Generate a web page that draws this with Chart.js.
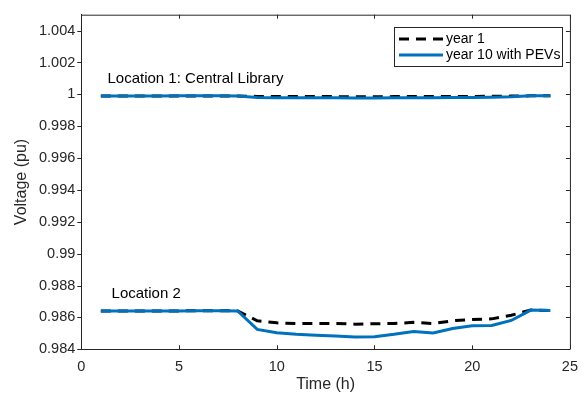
<!DOCTYPE html>
<html>
<head>
<meta charset="utf-8">
<script src="https://cdn.jsdelivr.net/npm/chart.js@4/dist/chart.umd.min.js"></script>
<style>
  html, body { margin: 0; padding: 0; background: #fff; }
  #wrap { width: 587px; height: 396px; }
</style>
</head>
<body>
<div id="wrap"><canvas id="c" width="587" height="396"></canvas></div>
<script>
// Hours of the day
const hours = [1,2,3,4,5,6,7,8,9,10,11,12,13,14,15,16,17,18,19,20,21,22,23,24];

// Location 1: Central Library
const lib_year1 = [0.99990,0.99990,0.99990,0.99990,0.99990,0.99990,0.99990,0.99990,
                   0.99987,0.99986,0.99986,0.99986,0.99986,0.99985,0.99985,0.99986,
                   0.99986,0.99986,0.99987,0.99987,0.99988,0.99989,0.99991,0.99991];
const lib_year10 = [0.99990,0.99990,0.99990,0.99990,0.99991,0.99991,0.99991,0.99990,
                    0.99981,0.99979,0.99979,0.99978,0.99978,0.99977,0.99977,0.99978,
                    0.99979,0.99978,0.99980,0.99981,0.99982,0.99985,0.99991,0.99991];

// Location 2
const loc2_year1 = [0.98641,0.98641,0.98641,0.98641,0.98641,0.98642,0.98642,0.98641,
                    0.98579,0.98566,0.98562,0.98562,0.98562,0.98558,0.98560,0.98562,
                    0.98569,0.98562,0.98579,0.98587,0.98591,0.98614,0.98646,0.98644];
const loc2_year10 = [0.98641,0.98641,0.98641,0.98641,0.98641,0.98642,0.98642,0.98641,
                     0.98525,0.98504,0.98494,0.98488,0.98483,0.98477,0.98479,0.98494,
                     0.98512,0.98502,0.98531,0.98548,0.98550,0.98581,0.98646,0.98644];

// Axis ticks
const xTicks = [0, 5, 10, 15, 20, 25];
const yTicks = [0.984, 0.986, 0.988, 0.99, 0.992, 0.994, 0.996, 0.998, 1, 1.002, 1.004];

const seriesNames = ['year 1', 'year 10 with PEVs'];
const notes = [
  { text: 'Location 1: Central Library', x: 1.34, y: 1.00098 },
  { text: 'Location 2', x: 1.55, y: 0.98746 }
];

const BLUE = '#0072BD';
const INK = '#262626';
const FONT = '"Liberation Sans", Arial, Helvetica, sans-serif';
const DASH = [10, 7];

function pts(ys) { return hours.map((h, i) => ({ x: h, y: ys[i] })); }

const solid = { borderColor: BLUE, borderWidth: 3, pointRadius: 0, fill: false, tension: 0, order: 0 };
const dashed = { borderColor: '#000', borderWidth: 3, borderDash: DASH, pointRadius: 0, fill: false, tension: 0, order: 1 };

// Box outline, MATLAB-style tick marks, legend and text notes
const decor = {
  id: 'decor',
  afterDatasetsDraw(chart) {
    const { ctx, chartArea: a, scales } = chart;
    const xs = scales.x, ys = scales.y;
    ctx.save();
    ctx.strokeStyle = INK;
    ctx.lineWidth = 1;
    ctx.beginPath();
    ctx.moveTo(a.left, a.top + 0.5);
    ctx.lineTo(a.right + 0.5, a.top + 0.5);
    ctx.lineTo(a.right + 0.5, a.bottom);
    ctx.stroke();

    const L = 4;
    ctx.beginPath();
    xTicks.forEach(v => {
      const px = Math.round(xs.getPixelForValue(v)) + 0.5;
      ctx.moveTo(px, a.bottom); ctx.lineTo(px, a.bottom - L);
      ctx.moveTo(px, a.top); ctx.lineTo(px, a.top + L);
    });
    yTicks.forEach(v => {
      const py = Math.round(ys.getPixelForValue(v)) + 0.5;
      ctx.moveTo(a.left, py); ctx.lineTo(a.left - L, py);
      ctx.moveTo(a.right, py); ctx.lineTo(a.right - L, py);
    });
    ctx.stroke();

    // notes
    ctx.fillStyle = '#000';
    ctx.font = '15px ' + FONT;
    ctx.textBaseline = 'middle';
    ctx.textAlign = 'left';
    notes.forEach(n => ctx.fillText(n.text, xs.getPixelForValue(n.x), ys.getPixelForValue(n.y)));

    // legend
    const bx = 394.5, by = 27.5, bw = 168, bh = 39;
    ctx.fillStyle = '#fff';
    ctx.fillRect(bx, by, bw, bh);
    ctx.strokeStyle = INK;
    ctx.lineWidth = 1;
    ctx.strokeRect(bx, by, bw, bh);
    const rows = [by + 11.5, by + 27.5];
    ctx.lineWidth = 3;
    ctx.strokeStyle = '#000';
    ctx.setLineDash(DASH);
    ctx.beginPath(); ctx.moveTo(399, rows[0]); ctx.lineTo(443, rows[0]); ctx.stroke();
    ctx.setLineDash([]);
    ctx.strokeStyle = BLUE;
    ctx.beginPath(); ctx.moveTo(399, rows[1]); ctx.lineTo(443, rows[1]); ctx.stroke();
    ctx.fillStyle = '#000';
    ctx.font = '14px ' + FONT;
    seriesNames.forEach((s, i) => ctx.fillText(s, 446, rows[i]));
    ctx.restore();
  }
};

new Chart(document.getElementById('c'), {
  type: 'line',
  data: {
    datasets: [
      Object.assign({ label: seriesNames[1], data: pts(lib_year10) }, solid),
      Object.assign({ label: seriesNames[1], data: pts(loc2_year10) }, solid),
      Object.assign({ label: seriesNames[0], data: pts(lib_year1) }, dashed),
      Object.assign({ label: seriesNames[0], data: pts(loc2_year1) }, dashed)
    ]
  },
  options: {
    responsive: false,
    animation: false,
    devicePixelRatio: 1,
    layout: { padding: { left: 0, right: 7, top: 13, bottom: 0 } },
    plugins: { legend: { display: false }, tooltip: { enabled: false } },
    scales: {
      x: {
        type: 'linear', min: 0, max: 25,
        afterBuildTicks: s => { s.ticks = xTicks.map(v => ({ value: v })); },
        afterFit: s => { s.height = 46.7; },
        grid: { display: false, drawTicks: false },
        border: { display: true, color: INK, width: 1 },
        ticks: { color: INK, font: { family: FONT, size: 14.5 }, padding: 9, maxRotation: 0 },
        title: { display: true, text: 'Time (h)', color: INK, font: { family: FONT, size: 16 }, padding: { top: 0, bottom: 2 } }
      },
      y: {
        type: 'linear', min: 0.984, max: 1.005,
        afterBuildTicks: s => { s.ticks = yTicks.map(v => ({ value: v })); },
        afterFit: s => { s.width = 81.3; },
        grid: { display: false, drawTicks: false },
        border: { display: true, color: INK, width: 1 },
        ticks: { color: INK, font: { family: FONT, size: 14.5 }, padding: 6,
                 callback: v => String(parseFloat(Number(v).toFixed(3))) },
        title: { display: true, text: 'Voltage (pu)', color: INK, font: { family: FONT, size: 16 }, padding: { top: 12, bottom: 0 } }
      }
    }
  },
  plugins: [decor]
});
</script>
</body>
</html>
